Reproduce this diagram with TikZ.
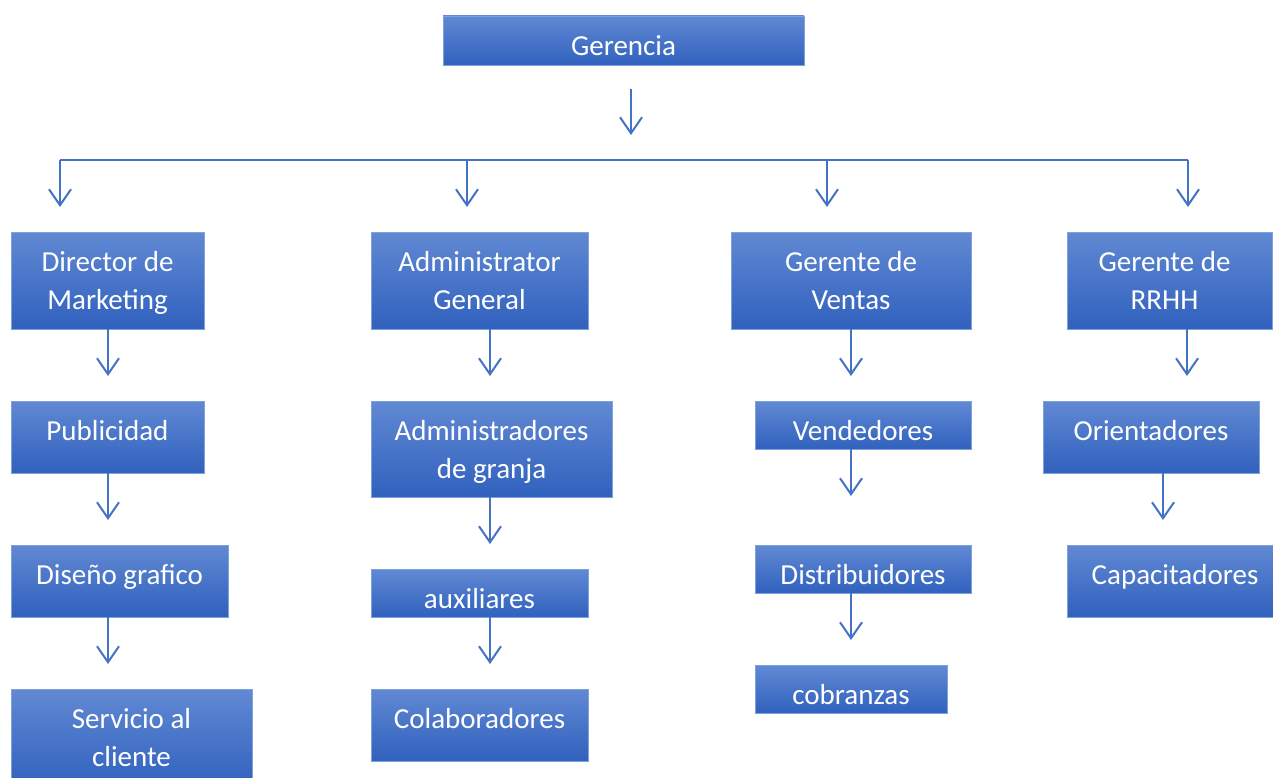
\documentclass[tikz,border=0pt]{standalone}
\usepackage{fontspec}
\setmainfont{Carlito}
\usetikzlibrary{arrows.meta}
\definecolor{boxtop}{HTML}{6189D3}
\definecolor{boxbot}{HTML}{3061BE}
\definecolor{boxline}{HTML}{7EA1DC}
\definecolor{arrcol}{HTML}{4472C4}
\newcommand\bxt[3]{\parbox[c][#2pt][t]{#1pt}{\centering\rule{0pt}{39.5pt}#3}}
\tikzset{
  orgbox/.style={inner sep=0pt, outer sep=0pt, anchor=north west, draw=boxline, line width=0.8pt,
    top color=boxtop, bottom color=boxbot, text=white, font=\fontsize{29}{38}\selectfont},
  conn/.style={draw=arrcol, line width=2pt},
  arr/.style={conn, -{Straight Barb[length=16pt,width=22pt,line width=2pt]}}
}
\begin{document}
\begin{tikzpicture}[x=1pt,y=-1pt]
\useasboundingbox (0,0) rectangle (1273,778);
% boxes
\node[orgbox] (ger) at (443,16) {\bxt{361}{49}{Gerencia}};
\node[orgbox] (dm) at (11,232) {\bxt{193}{97}{Director de\\Marketing}};
\node[orgbox] (ag) at (371,232) {\bxt{217}{97}{Administrator\\General}};
\node[orgbox] (gv) at (731,232) {\bxt{240}{97}{Gerente de\\Ventas}};
\node[orgbox] (gr) at (1067,232) {\bxt{205}{97}{\hspace*{-10pt}Gerente de\\\hspace*{-10pt}RRHH}};
\node[orgbox] (pub) at (11,401) {\bxt{193}{72}{Publicidad}};
\node[orgbox] (adg) at (371,401) {\bxt{241}{96}{Administradores\\de granja}};
\node[orgbox] (ven) at (755,401) {\bxt{216}{48}{Vendedores}};
\node[orgbox] (ori) at (1043,401) {\bxt{216}{72}{Orientadores}};
\node[orgbox] (dis) at (11,545) {\bxt{217}{72}{Diseño grafico}};
\node[orgbox] (aux) at (371,569) {\bxt{217}{48}{auxiliares}};
\node[orgbox] (dist) at (755,545) {\bxt{216}{48}{Distribuidores}};
\node[orgbox] (cap) at (1067,545) {\bxt{216}{72}{Capacitadores}};
\node[orgbox] (sac) at (11,689) {\bxt{241}{100}{Servicio al\\cliente}};
\node[orgbox] (col) at (371,689) {\bxt{217}{72}{Colaboradores}};
\node[orgbox] (cob) at (755,665) {\bxt{192}{48}{cobranzas}};
% bus
\coordinate (b1) at (60,160);
\coordinate (b2) at (467,160);
\coordinate (b3) at (827,160);
\coordinate (b4) at (1188,160);
\draw[conn] (b1) -- (b4);
\draw[arr, shorten <=24pt, shorten >=25pt] ([xshift=7.5pt]ger.south) -- ([xshift=7.5pt]ger.south |- b1);
\draw[arr, shorten >=25pt] (b1) -- (b1 |- dm.north);
\draw[arr, shorten >=25pt] (b2) -- (b2 |- ag.north);
\draw[arr, shorten >=25pt] (b3) -- (b3 |- gv.north);
\draw[arr, shorten >=25pt] (b4) -- (b4 |- gr.north);
% column 1
\draw[arr, shorten >=25pt] ([xshift=0.5pt]dm.south) -- ([xshift=0.5pt]dm.south |- pub.north);
\draw[arr, shorten >=25pt] ([xshift=0.5pt]pub.south) -- ([xshift=0.5pt]pub.south |- dis.north);
\draw[arr, shorten >=25pt] ([xshift=0.5pt]pub.south |- dis.south) -- ([xshift=0.5pt]pub.south |- sac.north);
% column 2
\draw[arr, shorten >=25pt] ([xshift=10.5pt]ag.south) -- ([xshift=10.5pt]ag.south |- adg.north);
\draw[arr, shorten >=25pt] ([xshift=-1.5pt]adg.south) -- ([xshift=-1.5pt]adg.south |- aux.north);
\draw[arr, shorten >=25pt] ([xshift=10.5pt]aux.south) -- ([xshift=10.5pt]aux.south |- col.north);
% column 3
\draw[arr, shorten >=25pt] (gv.south) -- (gv.south |- ven.north);
\draw[arr, shorten >=49pt] (gv.south |- ven.south) -- (gv.south |- dist.north);
\draw[arr, shorten >=25pt] (gv.south |- dist.south) -- (gv.south |- cob.north);
% column 4
\draw[arr, shorten >=25pt] ([xshift=17.5pt]gr.south) -- ([xshift=17.5pt]gr.south |- ori.north);
\draw[arr, shorten >=25pt] ([xshift=12pt]ori.south) -- ([xshift=12pt]ori.south |- cap.north);
\end{tikzpicture}
\end{document}
